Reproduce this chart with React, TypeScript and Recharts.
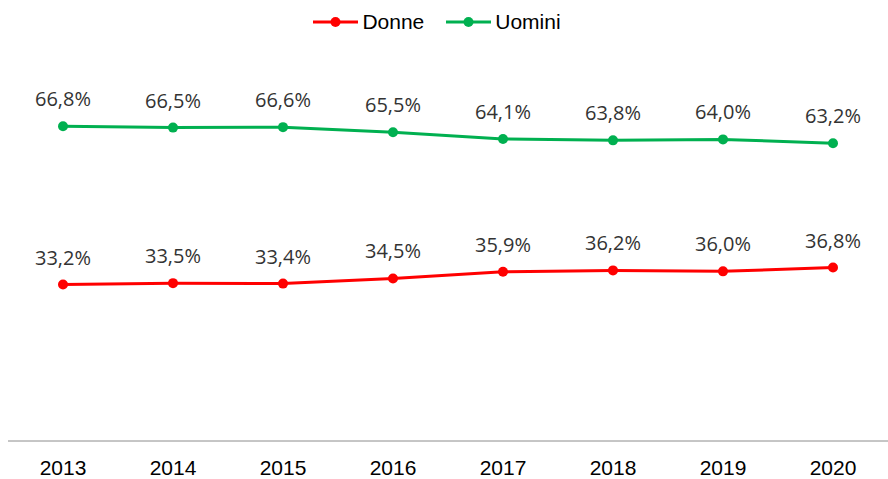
import React from "react";
import { LineChart, Line, XAxis, YAxis, LabelList } from "recharts";

const years = ["2013", "2014", "2015", "2016", "2017", "2018", "2019", "2020"];
const donne = [33.2, 33.5, 33.4, 34.5, 35.9, 36.2, 36.0, 36.8];
const uomini = [66.8, 66.5, 66.6, 65.5, 64.1, 63.8, 64.0, 63.2];

const data = years.map((y, i) => ({ year: y, Donne: donne[i], Uomini: uomini[i] }));

const RED = "#FF0000";
const GREEN = "#00B050";

const fmt = (v: number) => v.toFixed(1).replace(".", ",") + "%";

const makeLabel = (props: any) => {
  const { x, y, value } = props;
  return (
    <text
      x={x}
      y={y - 20}
      textAnchor="middle"
      fontFamily="'Open Sans', sans-serif"
      fontSize={20}
      fill="#333333"
    >
      {fmt(value)}
    </text>
  );
};

const LegendBox = () => {
  const items = [
    { name: "Donne", color: RED },
    { name: "Uomini", color: GREEN },
  ];
  return (
    <div
      style={{
        position: "absolute",
        top: 9,
        left: 0,
        width: 888,
        display: "flex",
        justifyContent: "center",
        alignItems: "center",
        fontFamily: "'Liberation Sans', Arial, sans-serif",
        fontSize: 21,
        lineHeight: "26px",
        color: "#000",
        paddingRight: 14,
        boxSizing: "border-box",
      }}
    >
      {items.map((it, i) => (
        <div key={it.name} style={{ display: "flex", alignItems: "center", marginLeft: i === 0 ? 0 : 22 }}>
          <svg width={45} height={12} style={{ marginRight: 4 }}>
            <line x1={0} y1={6} x2={45} y2={6} stroke={it.color} strokeWidth={3} />
            <circle cx={22.5} cy={6} r={5} fill={it.color} />
          </svg>
          <span>{it.name}</span>
        </div>
      ))}
    </div>
  );
};

export default function App() {
  return (
    <div style={{ position: "absolute", left: 0, top: 0, width: 888, height: 479, background: "#fff" }}>
      <LineChart width={888} height={479} data={data} margin={{ top: 64, right: 0, left: 8, bottom: 0 }}>
        <XAxis
          dataKey="year"
          height={38}
          padding={{ left: 55, right: 55 }}
          tickLine={false}
          tickSize={6}
          tickMargin={13}
          axisLine={{ stroke: "#8c8c8c", strokeWidth: 1 }}
          tick={{ fontFamily: "'Liberation Sans', Arial, sans-serif", fontSize: 21, fill: "#000" }}
          interval={0}
        />
        <YAxis hide domain={[0, 80]} />
        <Line
          dataKey="Donne"
          stroke={RED}
          strokeWidth={3}
          dot={{ r: 5, fill: RED, stroke: RED, strokeWidth: 0 }}
          isAnimationActive={false}
        >
          <LabelList dataKey="Donne" content={makeLabel} />
        </Line>
        <Line
          dataKey="Uomini"
          stroke={GREEN}
          strokeWidth={3}
          dot={{ r: 5, fill: GREEN, stroke: GREEN, strokeWidth: 0 }}
          isAnimationActive={false}
        >
          <LabelList dataKey="Uomini" content={makeLabel} />
        </Line>
      </LineChart>
      <LegendBox />
    </div>
  );
}
